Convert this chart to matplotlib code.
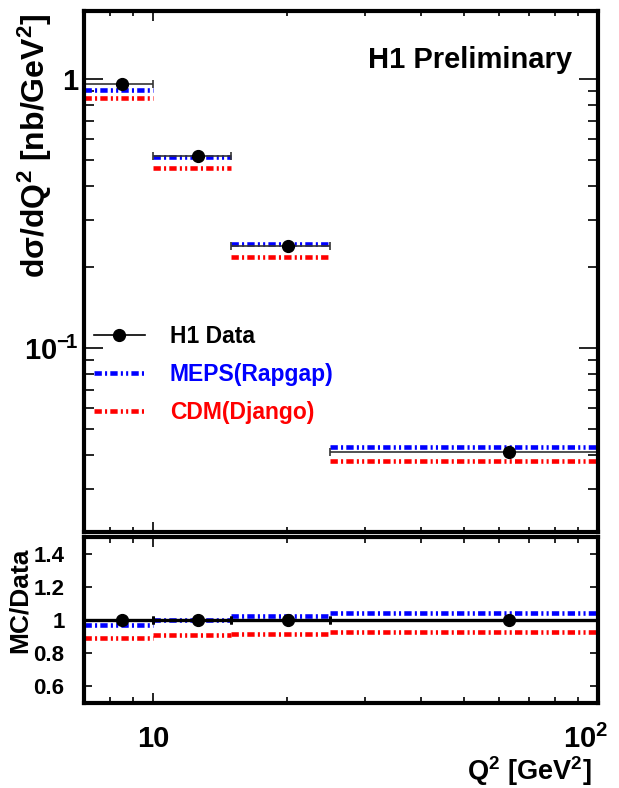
import numpy as np
import matplotlib
matplotlib.use("Agg")
import matplotlib.pyplot as plt
from matplotlib.lines import Line2D
from matplotlib.transforms import ScaledTranslation
from matplotlib.ticker import FixedLocator, NullFormatter, FuncFormatter, LogLocator

plt.rcParams["font.family"] = ["Liberation Sans", "DejaVu Sans"]
plt.rcParams["font.weight"] = "bold"
plt.rcParams["mathtext.fontset"] = "custom"
plt.rcParams["mathtext.rm"] = "Liberation Sans:bold"
plt.rcParams["mathtext.it"] = "Liberation Sans:bold"
plt.rcParams["mathtext.bf"] = "Liberation Sans:bold"

# Q2 bins and cross sections
q2_edges = [7, 10, 15, 25, 100]
q2_centers = [8.5, 12.6, 20.1, 63.0]
xsec_data = [0.958, 0.517, 0.240, 0.0412]
xsec_meps = [0.913, 0.515, 0.243, 0.0428]
xsec_cdm = [0.847, 0.468, 0.218, 0.038]

# MC / data ratios
ratio_data = [1.0, 1.0, 1.0, 1.0]
ratio_meps = [0.968, 1.000, 1.023, 1.043]
ratio_cdm = [0.894, 0.909, 0.918, 0.930]

BLUE = "#0000ff"
RED = "#ff0000"
# dash-dot-dot pattern, in units of line width
DASH = (0, (1.6, 0.7, 0.45, 0.7, 1.6, 0.7, 0.45, 0.7, 0.45, 0.7))
MC_LW = 3.3

lo = np.array(q2_edges[:-1])
hi = np.array(q2_edges[1:])
xc = np.array(q2_centers)

fig = plt.figure(figsize=(6.19, 7.88), dpi=100)
W, H = 619, 788
ax = fig.add_axes([84 / W, 1 - 532 / H, 514 / W, 521 / H])
ax2 = fig.add_axes([84 / W, 1 - 703 / H, 514 / W, 166 / H])

for a in (ax, ax2):
    a.set_xscale("log")
    a.set_xlim(7, 100)
    for s in a.spines.values():
        s.set_linewidth(3.0)
    a.xaxis.set_major_locator(FixedLocator([10, 100]))
    a.xaxis.set_minor_locator(LogLocator(base=10, subs=np.arange(2, 10)))
    a.xaxis.set_minor_formatter(NullFormatter())

# upper panel
ax.set_yscale("log")
ax.set_ylim(0.0207, 1.79)
ax.hlines(xsec_meps, lo, hi, colors=BLUE, linewidth=MC_LW, linestyles=[DASH])
ax.hlines(xsec_cdm, lo, hi, colors=RED, linewidth=MC_LW, linestyles=[DASH])
ax.errorbar(xc, xsec_data, xerr=[xc - lo, hi - xc], fmt="o", color="black",
            ms=8.5, ecolor="#333333", elinewidth=1.2, capsize=3, capthick=1.2)

ax.yaxis.set_major_locator(FixedLocator([0.1, 1]))
ax.yaxis.set_minor_locator(LogLocator(base=10, subs=np.arange(2, 10)))
ax.yaxis.set_minor_formatter(NullFormatter())
ax.yaxis.set_major_formatter(FuncFormatter(lambda v, p: "1" if v >= 1 else r"$10^{\mathregular{-}\!1}$"))
ax.tick_params(axis="y", which="major", direction="in", length=14, width=1.2,
               right=True, labelsize=21, pad=4)
ax.tick_params(axis="y", which="minor", direction="in", length=7, width=1.2, right=True)
ax.tick_params(axis="x", which="major", direction="in", length=7, width=1.2,
               top=True, labelbottom=False)
ax.tick_params(axis="x", which="minor", direction="in", length=3.5, width=1.2, top=True)

ax.text(0.95, 0.905, "H1 Preliminary", transform=ax.transAxes, ha="right",
        va="center", fontsize=21, fontweight="bold")

handles = [
    Line2D([], [], color="black", lw=1.2, marker="o", ms=8.5),
    Line2D([], [], color=BLUE, lw=MC_LW, linestyle=DASH),
    Line2D([], [], color=RED, lw=MC_LW, linestyle=DASH),
]
leg = ax.legend(handles, ["H1 Data", "MEPS(Rapgap)", "CDM(Django)"],
                loc="upper left", bbox_to_anchor=(0.02, 0.398), frameon=False,
                fontsize=16.5, handlelength=2.2, handletextpad=1.1,
                labelspacing=0.66, borderpad=0, borderaxespad=0)
for t, c in zip(leg.get_texts(), ["black", BLUE, RED]):
    t.set_color(c)
    t.set_fontweight("bold")

# ratio panel
ax2.set_ylim(0.5, 1.5)
ax2.hlines(ratio_meps, lo, hi, colors=BLUE, linewidth=MC_LW, linestyles=[DASH])
ax2.hlines(ratio_cdm, lo, hi, colors=RED, linewidth=MC_LW, linestyles=[DASH])
ax2.errorbar(xc, ratio_data, xerr=[xc - lo, hi - xc], fmt="o", color="black",
             ms=8.5, ecolor="black", elinewidth=2.4, capsize=3, capthick=2)
ax2.yaxis.set_major_locator(FixedLocator([0.6, 0.8, 1.0, 1.2, 1.4]))
ax2.yaxis.set_major_formatter(FuncFormatter(lambda v, p: f"{v:g}"))
ax2.tick_params(axis="y", which="major", direction="in", length=6, width=1.2,
                right=True, labelsize=16, pad=14)
ax2.tick_params(axis="x", which="major", direction="in", length=7, width=1.2,
                top=True, labelsize=21, pad=16)
ax2.tick_params(axis="x", which="minor", direction="in", length=4, width=1.2, top=True)
ax2.xaxis.set_major_formatter(FuncFormatter(lambda v, p: "10" if v < 50 else r"$10^2$"))

# pull the 10^2 label back inside the figure
fig.canvas.draw()
for tick in ax2.xaxis.get_major_ticks():
    if tick.get_loc() > 50:
        lab = tick.label1
        lab.set_transform(lab.get_transform()
                          + ScaledTranslation(-0.12, 0, fig.dpi_scale_trans))

ax2.set_xlabel(r"Q$^2$ [GeV$^2$]", fontsize=19.5, fontweight="bold", loc="right")
ax2.xaxis.set_label_coords(0.988, -0.31)

fig.text(35 / W, 1 - 14 / H, r"d$\sigma$/dQ$^2$ [nb/GeV$^2$]", rotation=90,
         ha="center", va="top", fontsize=23, fontweight="bold")
fig.text(20 / W, 1 - 548 / H, "MC/Data", rotation=90, ha="center", va="top",
         fontsize=19, fontweight="bold")

fig.savefig("out.png", dpi=100)
